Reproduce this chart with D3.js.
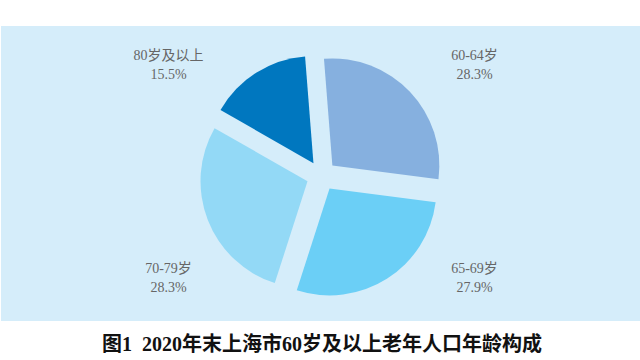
<!DOCTYPE html>
<html>
<head>
<meta charset="utf-8">
<script src="https://cdn.jsdelivr.net/npm/d3@7/dist/d3.min.js"></script>
<style>
  html, body { margin: 0; padding: 0; background: #ffffff; }
  svg { display: block; }
</style>
</head>
<body>
<svg id="chart" width="640" height="360"></svg>
<script>
const categories = ["60-64岁", "65-69岁", "70-79岁", "80岁及以上"];
const values = [28.3, 27.9, 28.3, 15.5];
const valueLabels = ["28.3%", "27.9%", "28.3%", "15.5%"];
const colors = ["#86B0DF", "#6BCFF6", "#93D9F6", "#0077BF"];
const title = "图1  2020年末上海市60岁及以上老年人口年龄构成";

const svg = d3.select("#chart");
const W = 640, H = 360;

svg.append("rect")
  .attr("x", 1).attr("y", 26)
  .attr("width", W - 1).attr("height", 295)
  .attr("fill", "#D5EDFA");

const cx = 321.5, cy = 175.8, R = 107, explode = 15;
const data = categories.map((c, i) => ({ cat: c, value: values[i], label: valueLabels[i], color: colors[i] }));

const start = -4.5 * Math.PI / 180;
const pie = d3.pie().sort(null).value(d => d.value)
  .startAngle(start).endAngle(start + 2 * Math.PI);
const arc = d3.arc().innerRadius(0).outerRadius(R);
const arcs = pie(data);

const g = svg.append("g").attr("transform", `translate(${cx},${cy})`);
g.selectAll("path.slice")
  .data(arcs)
  .enter().append("path")
  .attr("class", "slice")
  .attr("d", arc)
  .attr("fill", d => d.data.color)
  .attr("transform", d => {
    const m = (d.startAngle + d.endAngle) / 2;
    return `translate(${explode * Math.sin(m)},${-explode * Math.cos(m)})`;
  });

const fontFam = "'Liberation Serif', 'Noto Sans CJK SC', serif";
arcs.forEach(d => {
  const m = (d.startAngle + d.endAngle) / 2;
  const sx = Math.sin(m) >= 0 ? 1 : -1;
  const top = -Math.cos(m) < 0;
  const x = cx + sx * 153;
  const y1 = top ? cy - 118.5 : cy + 94;
  const t = svg.append("text")
    .attr("x", x).attr("y", y1)
    .attr("text-anchor", "middle")
    .attr("dominant-baseline", "middle")
    .attr("font-family", fontFam)
    .attr("font-size", 14)
    .attr("fill", "#666666");
  t.append("tspan").attr("x", x).attr("y", y1).text(d.data.cat);
  t.append("tspan").attr("x", x).attr("y", y1 + 19).text(d.data.label);
});

svg.append("text")
  .attr("x", 322).attr("y", 346)
  .attr("text-anchor", "middle")
  .attr("dominant-baseline", "middle")
  .attr("font-family", "'Liberation Serif', 'Noto Sans CJK SC', serif")
  .attr("font-weight", "bold")
  .attr("font-size", 20)
  .attr("fill", "#111111")
  .style("white-space", "pre")
  .text(title);
</script>
</body>
</html>
